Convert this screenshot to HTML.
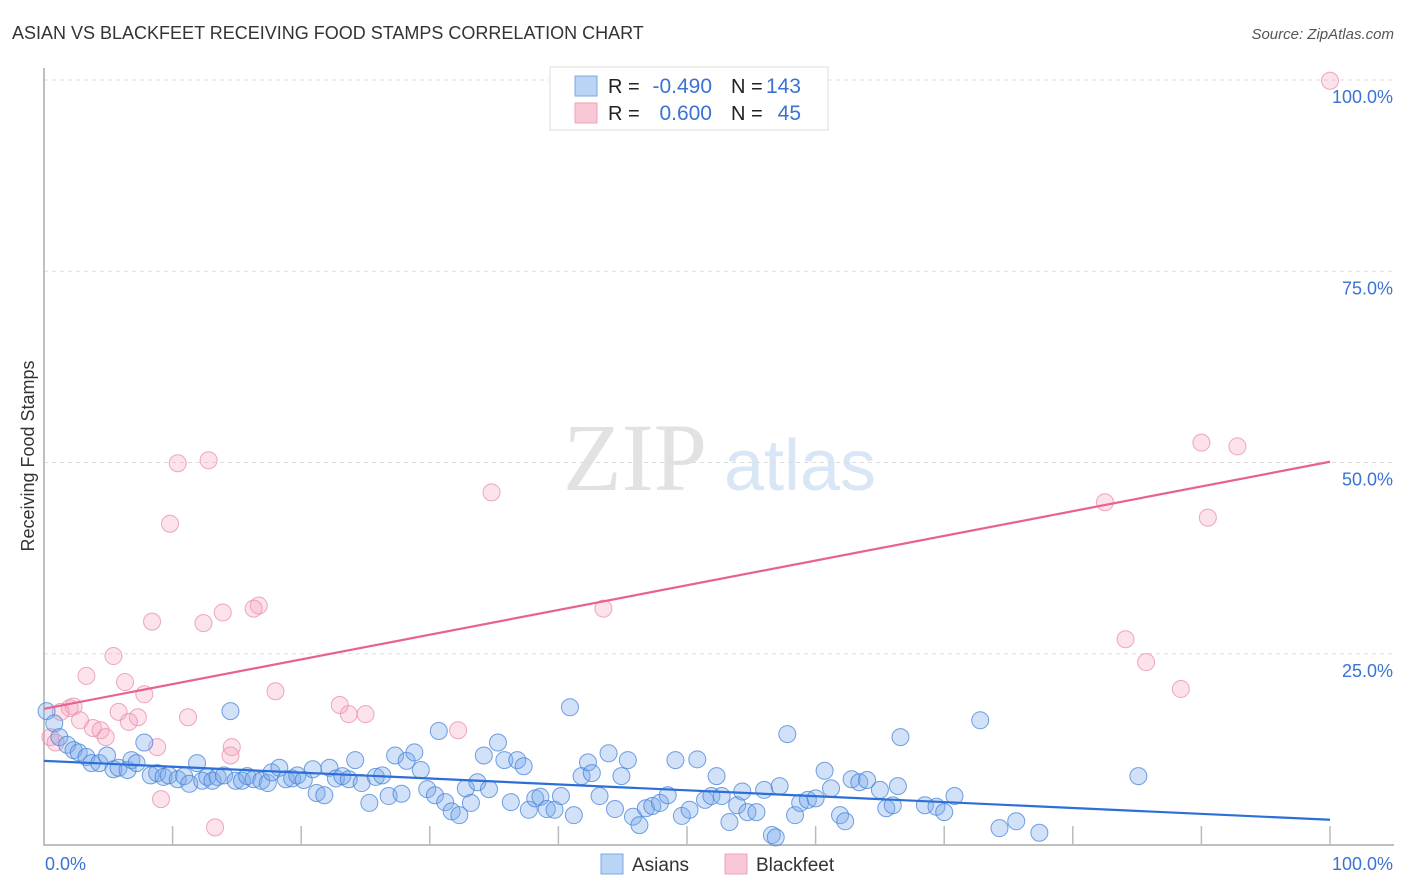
<!DOCTYPE html>
<html><head><meta charset="utf-8"><style>
body{margin:0;background:#fff;font-family:"Liberation Sans",sans-serif;}
#wrap{position:relative;width:1406px;height:892px;overflow:hidden;}
</style></head><body>
<div id="wrap">
<svg id="svg" width="1406" height="892" xmlns="http://www.w3.org/2000/svg">
<text x="12" y="39" font-size="18" fill="#333">ASIAN VS BLACKFEET RECEIVING FOOD STAMPS CORRELATION CHART</text>
<text x="1394" y="39" font-size="15" fill="#555" font-style="italic" text-anchor="end">Source: ZipAtlas.com</text>
<text x="34" y="456" font-size="18" fill="#333" text-anchor="middle" transform="rotate(-90 34 456)">Receiving Food Stamps</text>
<g>
<text x="635" y="490" font-size="96" fill="#e2e2e2" font-family="Liberation Serif,serif" text-anchor="middle">ZIP</text>
<text x="800" y="490" font-size="72" fill="#d9e6f6" text-anchor="middle">atlas</text>
</g>
<g id="grid"></g>
<g id="marks"></g>
<g id="lines"></g>
<g id="legend">
<rect x="550" y="67" width="278" height="63" fill="#fff" stroke="#ddd"/>
<rect x="575" y="76" width="22" height="20" fill="#b9d4f5" stroke="#7aaae0"/>
<rect x="575" y="103" width="22" height="20" fill="#f9c8d6" stroke="#eca3bb"/>
<text x="608" y="93" font-size="20" fill="#222">R =</text>
<text x="712" y="93" font-size="21" fill="#3b72d3" text-anchor="end">-0.490</text>
<text x="731" y="93" font-size="20" fill="#222">N =</text>
<text x="801" y="93" font-size="21" fill="#3b72d3" text-anchor="end">143</text>
<text x="608" y="120" font-size="20" fill="#222">R =</text>
<text x="712" y="120" font-size="21" fill="#3b72d3" text-anchor="end">0.600</text>
<text x="731" y="120" font-size="20" fill="#222">N =</text>
<text x="801" y="120" font-size="21" fill="#3b72d3" text-anchor="end">45</text>
</g>
<g>
<rect x="601" y="854" width="22" height="20" fill="#b9d4f5" stroke="#7aaae0"/>
<text x="632" y="871" font-size="19" fill="#333">Asians</text>
<rect x="725" y="854" width="22" height="20" fill="#f9c8d6" stroke="#eca3bb"/>
<text x="756" y="871" font-size="19" fill="#333">Blackfeet</text>
</g>
</svg>
</div>
<script>
const yTicks=[100,75,50,25];
const yTickLabels=["100.0%","75.0%","50.0%","25.0%"];
const xTickLabels=["0.0%","100.0%"];
const asianX=[0.2,0.8,1.2,1.8,2.3,2.7,3.3,3.7,4.3,4.9,5.4,5.8,6.5,6.8,7.2,7.8,8.3,8.8,9.3,9.7,10.4,10.9,11.3,11.9,12.3,12.7,13.1,13.5,14.0,14.5,14.9,15.4,15.8,16.3,16.9,17.4,17.7,18.3,18.8,19.3,19.7,20.2,20.9,21.2,21.8,22.2,22.7,23.2,23.7,24.2,24.7,25.3,25.8,26.3,26.8,27.3,27.8,28.2,28.8,29.3,29.8,30.4,30.7,31.2,31.7,32.3,32.8,33.2,33.7,34.2,34.6,35.3,35.8,36.3,36.8,37.3,37.7,38.2,38.6,39.1,39.7,40.2,40.9,41.2,41.8,42.3,42.6,43.2,43.9,44.4,44.9,45.4,45.8,46.3,46.8,47.3,47.9,48.5,49.1,49.6,50.2,50.8,51.4,51.9,52.3,52.7,53.3,53.9,54.3,54.7,55.4,56.0,56.6,57.2,57.8,58.4,58.8,59.4,60.0,60.7,61.2,61.9,62.3,62.8,63.4,64.0,65.0,65.5,66.0,66.4,66.6,68.5,69.4,70.0,70.8,72.8,74.3,75.6,77.4,85.1,56.9];
const asianY=[17.5,15.9,14.1,13.1,12.4,12.1,11.5,10.7,10.7,11.7,9.9,10.1,9.8,11.1,10.7,13.4,9.1,9.4,8.9,9.1,8.6,9.0,8.0,10.7,8.4,8.9,8.4,8.9,9.1,17.5,8.4,8.4,9.0,8.6,8.4,8.1,9.5,10.1,8.6,8.7,9.1,8.5,9.9,6.8,6.5,10.1,8.7,9.0,8.6,11.1,8.1,5.5,8.9,9.1,6.4,11.7,6.7,11.0,12.1,9.8,7.3,6.5,14.9,5.6,4.4,3.9,7.4,5.5,8.2,11.7,7.3,13.4,11.1,5.6,11.1,10.3,4.6,6.1,6.3,4.7,4.6,6.4,18.0,3.9,9.0,10.8,9.4,6.4,12.0,4.7,9.0,11.1,3.7,2.6,4.8,5.1,5.5,6.5,11.1,3.8,4.6,11.2,5.9,6.4,9.0,6.4,3.0,5.2,7.0,4.3,4.3,7.2,1.3,7.7,14.5,3.9,5.5,5.9,6.1,9.7,7.4,3.9,3.1,8.6,8.2,8.5,7.2,4.8,5.2,7.7,14.1,5.2,5.0,4.3,6.4,16.3,2.2,3.1,1.6,9.0,1.0];
const bfX=[100,90.0,92.8,82.5,90.5,84.1,85.7,88.4,10.4,12.8,34.8,9.8,43.5,8.4,16.7,16.3,13.9,12.4,5.4,3.3,6.3,7.8,18.0,23.0,2.0,2.3,5.8,7.3,11.2,23.7,25.0,2.8,3.8,4.4,6.6,4.8,0.5,0.9,32.2,8.8,14.6,14.5,9.1,13.3,1.3];
const bfY=[99.9,52.6,52.1,44.8,42.8,26.9,23.9,20.4,49.9,50.3,46.1,42.0,30.9,29.2,31.3,30.9,30.4,29.0,24.7,22.1,21.3,19.7,20.1,18.3,17.9,18.1,17.4,16.7,16.7,17.1,17.1,16.3,15.3,15.0,16.1,14.1,14.1,13.4,15.0,12.8,12.8,11.7,6.0,2.3,17.4];
const asianFit=[11.0,3.3];
const bfFit=[17.8,50.1];
const NS='http://www.w3.org/2000/svg';
const X0=44,X1=1330,Y0=845,Y1=80;
function sx(v){return X0+(X1-X0)*v/100;}
function sy(v){return Y0-(Y0-Y1)*v/100;}
function mk(tag,attrs,parent){const e=document.createElementNS(NS,tag);for(const k in attrs)e.setAttribute(k,attrs[k]);parent.appendChild(e);return e;}
const grid=document.getElementById('grid'),marks=document.getElementById('marks'),lines=document.getElementById('lines');
yTicks.forEach((t,i)=>{
 const l=mk('line',{x1:X0,x2:1394,y1:sy(t),y2:sy(t),stroke:'#ddd','stroke-dasharray':'4,4'},grid);
 
 
 const tx=mk('text',{x:1393,y:sy(t)+23,'font-size':18,fill:'#3b72d3','text-anchor':'end'},grid);
 tx.textContent=yTickLabels[i];
 
 
});
const ax=mk('path',{d:`M${X0} 68 V${Y0} H1394`,stroke:'#aaa',fill:'none','stroke-width':1.5},grid);


for(let i=1;i<=10;i++){
 const t=mk('line',{x1:sx(i*10),x2:sx(i*10),y1:Y0-19,y2:Y0,stroke:'#bbb','stroke-width':1.5},grid);
 
 
}
[[0,'start',45],[100,'end',1393]].forEach((a,i)=>{
 const t=mk('text',{x:a[2],y:870,'font-size':18,fill:'#3b72d3','text-anchor':a[1]},grid);
 t.textContent=xTickLabels[i];
 
 
});
bfX.forEach((x,i)=>{
 const c=mk('circle',{cx:sx(x),cy:sy(bfY[i]),r:8.5,fill:'rgba(245,160,190,0.3)',stroke:'rgba(232,140,170,0.75)','stroke-width':1},marks);
 
 
});
asianX.forEach((x,i)=>{
 const c=mk('circle',{cx:sx(x),cy:sy(asianY[i]),r:8.5,fill:'rgba(120,170,235,0.35)',stroke:'rgba(70,130,215,0.75)','stroke-width':1},marks);
 
 
});
const l1=mk('line',{x1:sx(0),y1:sy(bfFit[0]),x2:sx(100),y2:sy(bfFit[1]),stroke:'#e8628f','stroke-width':2.2},lines);


const l2=mk('line',{x1:sx(0),y1:sy(asianFit[0]),x2:sx(100),y2:sy(asianFit[1]),stroke:'#2d6fd6','stroke-width':2.2},lines);


</script>
</body></html>
